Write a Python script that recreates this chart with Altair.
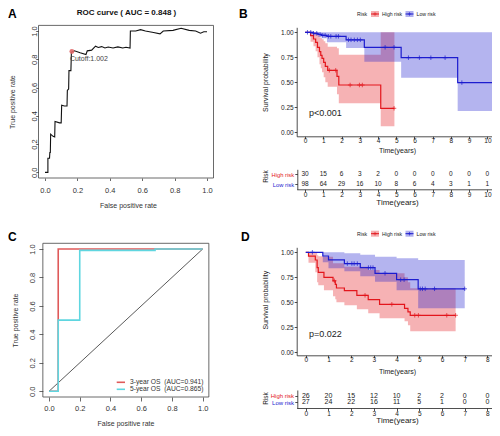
import altair as alt
import pandas as pd

W, H = 484, 420
FONT = "Liberation Sans"
RED, BLUE = "#e3161c", "#1c1ccf"
C3, C5 = "#df5a5a", "#5fd6e0"
DOT = "#e06868"
INK = "#222222"
PLUS = "M-1,0L1,0M0,-1L0,1"


def X(v):
    return v - 8


def Y(v):
    return v - 8


# ---------------- data ----------------
# Panel A: ROC curve
rocA_fpr = [0.0, 0.018, 0.018, 0.028, 0.030, 0.033, 0.035, 0.050, 0.060, 0.062,
            0.090, 0.100, 0.103, 0.120, 0.136, 0.138, 0.146, 0.148, 0.160, 0.163,
            0.168, 0.182, 0.217, 0.253, 0.261, 0.288, 0.312, 0.329, 0.35, 0.37,
            0.39, 0.42, 0.45, 0.48, 0.50, 0.525, 0.527, 0.56, 0.59, 0.62,
            0.67, 0.71, 0.73, 0.79, 0.84, 0.89, 0.93, 0.96, 0.98, 1.0]
rocA_tpr = [0.0, 0.0, 0.10, 0.10, 0.14, 0.14, 0.27, 0.255, 0.25, 0.36,
            0.35, 0.35, 0.475, 0.47, 0.47, 0.58, 0.59, 0.72, 0.72, 0.85,
            0.853, 0.86, 0.846, 0.834, 0.86, 0.865, 0.893, 0.884, 0.89, 0.88,
            0.887, 0.88, 0.888, 0.88, 0.885, 0.879, 1.0, 1.0, 1.01, 1.0,
            0.99, 0.98, 1.0, 1.005, 1.02, 1.005, 1.0, 0.985, 0.995, 0.995]
cutoff_fpr = [0.166]
cutoff_tpr = [0.855]
cutoff_label = ["Cutoff:1.002"]

# Panel B: KM curves (training set)
B_high_t = [0, 0.30, 0.46, 0.58, 0.68, 0.79, 0.86, 0.93, 1.02, 1.11, 1.24, 1.75, 1.85, 4.15, 4.9]
B_high_s = [1.0, 0.967, 0.933, 0.9, 0.85, 0.806, 0.77, 0.74, 0.70, 0.66, 0.62, 0.56, 0.473, 0.24, 0.24]
B_high_up = [1.0, 1.0, 1.0, 1.0, 0.97, 0.95, 0.94, 0.93, 0.91, 0.89, 0.856, 0.84, 0.775, 1.0, 1.0]
B_high_lo = [1.0, 0.905, 0.86, 0.81, 0.75, 0.68, 0.64, 0.60, 0.55, 0.50, 0.456, 0.38, 0.29, 0.06, 0.06]
B_low_t = [0, 0.45, 0.7, 0.9, 1.2, 2.25, 3.25, 5.27, 8.37, 10.5]
B_low_s = [1.0, 0.99, 0.98, 0.97, 0.96, 0.925, 0.85, 0.746, 0.497, 0.497]
B_low_up = [1.0, 1.0, 1.0, 1.0, 1.0, 1.0, 1.0, 1.0, 1.0, 1.0]
B_low_lo = [1.0, 0.97, 0.955, 0.94, 0.90, 0.843, 0.706, 0.546, 0.213, 0.213]
B_high_cens_t = [1.33, 1.68, 2.47, 2.98, 3.14, 4.88]
B_high_cens_s = [0.62, 0.62, 0.473, 0.473, 0.473, 0.24]
B_low_cens_t = [0.13, 0.31, 0.46, 0.64, 0.82, 0.97, 1.1, 1.28, 1.41, 1.7, 1.83, 2.38,
                2.52, 2.7, 2.87, 3.03, 4.39, 4.88, 5.67, 6.27, 6.9, 7.68, 8.6]
B_low_cens_s = [1.0, 1.0, 0.99, 0.99, 0.98, 0.97, 0.97, 0.96, 0.96, 0.96, 0.96, 0.925,
                0.925, 0.925, 0.925, 0.925, 0.85, 0.85, 0.746, 0.746, 0.746, 0.746, 0.497]
B_times = list(range(11))
B_risk_high = [30, 15, 6, 3, 2, 0, 0, 0, 0, 0, 0]
B_risk_low = [98, 64, 29, 16, 10, 8, 6, 4, 3, 1, 1]

# Panel C: time-dependent ROC
C3_fpr = [0.0, 0.06, 0.06, 1.0]
C3_tpr = [0.0, 0.0, 1.0, 1.0]
C5_fpr = [0.0, 0.06, 0.06, 0.2, 0.2, 0.69, 0.69, 1.0]
C5_tpr = [0.0, 0.0, 0.5, 0.5, 0.99, 0.99, 1.0, 1.0]
diag_v = [0.0, 1.0]
C_legend = ["3-year OS\u00a0\u00a0(AUC=0.941)", "5-year OS\u00a0\u00a0(AUC=0.865)"]

# Panel D: KM curves (validation set)
D_high_t = [0, 0.12, 0.42, 0.5, 0.55, 0.8, 1.2, 1.3, 1.35, 1.7, 2.25, 2.75, 3.25, 4.35, 4.5, 4.6, 6.6]
D_high_s = [1.0, 0.962, 0.923, 0.846, 0.80, 0.75, 0.715, 0.68, 0.643, 0.616, 0.57, 0.526, 0.48, 0.44, 0.405, 0.37, 0.37]
D_high_up = [1.0, 1.0, 1.0, 0.97, 0.96, 0.956, 0.89, 0.89, 0.89, 0.856, 0.856, 0.823, 0.79, 0.75, 0.70, 0.64, 0.64]
D_high_lo = [1.0, 0.895, 0.8, 0.7, 0.67, 0.62, 0.56, 0.53, 0.5, 0.47, 0.43, 0.39, 0.34, 0.31, 0.27, 0.21, 0.21]
D_low_t = [0, 0.75, 1.0, 1.7, 2.4, 3.05, 4.0, 4.95, 7.0]
D_low_s = [1.0, 0.963, 0.925, 0.887, 0.847, 0.79, 0.726, 0.635, 0.635]
D_low_up = [1.0, 1.0, 1.0, 0.99, 0.975, 0.955, 0.94, 0.923, 0.923]
D_low_lo = [1.0, 0.9, 0.84, 0.81, 0.76, 0.706, 0.62, 0.44, 0.44]
D_high_cens_t = [1.26, 2.61, 3.79, 4.8, 4.96, 6.21, 6.6]
D_high_cens_s = [0.715, 0.57, 0.48, 0.37, 0.37, 0.37, 0.37]
D_low_cens_t = [0.29, 1.83, 2.03, 2.13, 2.27, 2.76, 2.86, 2.96, 3.49, 4.18, 4.33, 5.04, 5.14, 5.26, 5.67, 7.0]
D_low_cens_s = [1.0, 0.887, 0.887, 0.887, 0.887, 0.847, 0.847, 0.847, 0.79, 0.726, 0.726,
                0.635, 0.635, 0.635, 0.635, 0.635]
D_times = list(range(9))
D_risk_high = [26, 20, 15, 12, 10, 2, 2, 0, 0]
D_risk_low = [27, 24, 22, 16, 11, 5, 1, 0, 0]

GROUPS = ["High risk", "Low risk"]


# ---------------- helpers ----------------
def text_layer(s, x, y, size, color=INK, weight="normal", align="left", baseline="middle"):
    return alt.Chart(pd.DataFrame({"s": [s]})).mark_text(
        align=align, baseline=baseline, font=FONT, fontSize=size,
        fontWeight=weight, color=color
    ).encode(x=alt.value(X(x)), y=alt.value(Y(y)), text="s:N")


def lin(dom, r0, r1):
    return alt.Scale(domain=dom, range=[r0, r1], nice=False, zero=False)


def r_x_axis(box_b, tick, lab_c, title_x, title_y):
    return alt.Axis(orient="bottom", offset=Y(box_b) - H, values=[0, 0.2, 0.4, 0.6, 0.8, 1.0],
                    format=".1f", domain=False, grid=False, tickSize=tick, tickColor="#444",
                    tickWidth=0.8, labelFont=FONT, labelFontSize=7.5, labelColor="#333",
                    labelBaseline="middle", labelAlign="center", labelPadding=lab_c - box_b - tick,
                    labelFlush=False, labelOverlap=False,
                    title="False positive rate", titleFont=FONT, titleFontSize=7,
                    titleFontWeight="normal", titleColor="#333", titleX=X(title_x),
                    titleY=title_y - box_b, titleBaseline="middle", titleAlign="center")


def r_y_axis(box_l, tick, lab_c, title_x, title_y):
    return alt.Axis(orient="left", offset=-X(box_l), values=[0, 0.2, 0.4, 0.6, 0.8, 1.0],
                    format=".1f", domain=False, grid=False, tickSize=tick, tickColor="#444",
                    tickWidth=0.8, labelFont=FONT, labelFontSize=7.5, labelColor="#333",
                    labelAngle=270, labelAlign="center", labelBaseline="middle",
                    labelPadding=box_l - tick - lab_c, labelFlush=False, labelOverlap=False,
                    title="True positive rate", titleFont=FONT, titleFontSize=7,
                    titleFontWeight="normal", titleColor="#333", titleAngle=270,
                    titleX=title_x - box_l, titleY=Y(title_y), titleBaseline="middle",
                    titleAlign="center")


def gg_x_axis(ax_y, values, lab_c, title_y, title_size=7, title_x=397):
    return alt.Axis(orient="bottom", offset=Y(ax_y) - H, values=values, format="d",
                    domain=True, domainColor=INK, domainWidth=0.8, grid=False, tickSize=2.5,
                    tickColor=INK, tickWidth=0.8, labelFont=FONT, labelFontSize=6.5,
                    labelColor=INK, labelBaseline="middle", labelAlign="center",
                    labelPadding=lab_c - ax_y - 2.5, labelFlush=False, labelOverlap=False,
                    title="Time(years)", titleFont=FONT, titleFontSize=title_size,
                    titleFontWeight="normal", titleColor=INK, titleX=X(title_x),
                    titleY=title_y - ax_y, titleBaseline="middle", titleAlign="center")


def gg_y_axis(ax_x, title_y):
    return alt.Axis(orient="left", offset=-X(ax_x), values=[0, 0.25, 0.5, 0.75, 1.0],
                    format=".2f", domain=True, domainColor=INK, domainWidth=0.8, grid=False,
                    tickSize=2.5, tickColor=INK, tickWidth=0.8, labelFont=FONT,
                    labelFontSize=6.5, labelColor=INK, labelAlign="right",
                    labelBaseline="middle", labelPadding=1, labelFlush=False,
                    labelOverlap=False, title="Survival probability", titleFont=FONT,
                    titleFontSize=7, titleFontWeight="normal", titleColor=INK, titleAngle=270,
                    titleX=265 - ax_x, titleY=Y(title_y), titleBaseline="middle",
                    titleAlign="center")


def risk_y_axis(ax_x, title_y, size):
    return alt.Axis(orient="left", offset=-X(ax_x), domain=True, domainColor=INK,
                    domainWidth=0.8, grid=False, tickSize=2.5, tickColor=INK, tickWidth=0.8,
                    labelFont=FONT, labelFontSize=size, labelAlign="right",
                    labelBaseline="middle", labelPadding=1.2,
                    labelColor={"condition": {"test": "datum.value == 'High risk'", "value": RED},
                                "value": BLUE},
                    title="Risk", titleFont=FONT, titleFontSize=6.5, titleFontWeight="normal",
                    titleColor=INK, titleAngle=270, titleX=265 - ax_x, titleY=Y(title_y),
                    titleBaseline="middle", titleAlign="center")


def km_legend(y):
    parts = [text_layer("Risk", 357, y, 5.2)]
    for x0, col, lab in [(371, RED, "High risk"), (405.5, BLUE, "Low risk")]:
        one = pd.DataFrame({"a": [0]})
        parts.append(alt.Chart(one).mark_rect(color=col, opacity=0.35).encode(
            x=alt.value(X(x0)), x2=alt.value(X(x0 + 8)), y=alt.value(Y(y - 3)), y2=alt.value(Y(y + 3))))
        parts.append(alt.Chart(one).mark_rule(color=col, strokeWidth=1).encode(
            x=alt.value(X(x0)), x2=alt.value(X(x0 + 8)), y=alt.value(Y(y))))
        parts.append(alt.Chart(one).mark_point(shape=PLUS, size=12, filled=False, color=col,
                                               strokeWidth=0.9).encode(
            x=alt.value(X(x0 + 4)), y=alt.value(Y(y))))
        parts.append(text_layer(lab, x0 + 11, y, 5.2))
    return parts


def km_panel(xdom, x_l, x_r, y_b, y_t, ydom, xvals, lab_c, title_y, ytitle_c,
             high, low, high_c, low_c):
    sx = lin(xdom, X(x_l), X(x_r))
    sy = lin(ydom, Y(y_b), Y(y_t))
    hdf = pd.DataFrame({"t": high[0], "s": high[1], "up": high[2], "lo": high[3]})
    ldf = pd.DataFrame({"t": low[0], "s": low[1], "up": low[2], "lo": low[3]})
    hc = pd.DataFrame({"t": high_c[0], "s": high_c[1]})
    lc = pd.DataFrame({"t": low_c[0], "s": low_c[1]})
    base_h = alt.Chart(hdf)
    base_l = alt.Chart(ldf)
    return [
        base_h.mark_area(interpolate="step-after", color=RED, opacity=0.33).encode(
            x=alt.X("t:Q", scale=sx, axis=gg_x_axis(y_b, xvals, lab_c, title_y)),
            y=alt.Y("up:Q", scale=sy, axis=gg_y_axis(x_l, ytitle_c)), y2="lo:Q"),
        base_l.mark_area(interpolate="step-after", color=BLUE, opacity=0.33).encode(
            x=alt.X("t:Q", scale=sx, axis=None), y=alt.Y("up:Q", scale=sy, axis=None), y2="lo:Q"),
        base_h.mark_line(interpolate="step-after", color=RED, strokeWidth=1.2).encode(
            x=alt.X("t:Q", scale=sx, axis=None), y=alt.Y("s:Q", scale=sy, axis=None)),
        base_l.mark_line(interpolate="step-after", color=BLUE, strokeWidth=1.2).encode(
            x=alt.X("t:Q", scale=sx, axis=None), y=alt.Y("s:Q", scale=sy, axis=None)),
        alt.Chart(hc).mark_point(shape=PLUS, size=20, filled=False, color=RED, strokeWidth=1).encode(
            x=alt.X("t:Q", scale=sx, axis=None), y=alt.Y("s:Q", scale=sy, axis=None)),
        alt.Chart(lc).mark_point(shape=PLUS, size=20, filled=False, color=BLUE, strokeWidth=1).encode(
            x=alt.X("t:Q", scale=sx, axis=None), y=alt.Y("s:Q", scale=sy, axis=None)),
    ]


def risk_table(xdom, x_l, x_r, times, high, low, ax_x, r_top, r_bot, pad, lab_c, title_y,
               ytitle_c, num_size, lab_size):
    sx = lin(xdom, X(x_l), X(x_r))
    sy = alt.Scale(type="point", domain=GROUPS, range=[Y(r_top), Y(r_bot)], padding=pad)
    df = pd.DataFrame({"t": times + times, "g": [GROUPS[0]] * len(times) + [GROUPS[1]] * len(times),
                       "n": high + low})
    return alt.Chart(df).mark_text(font=FONT, fontSize=num_size, color=INK, baseline="middle").encode(
        x=alt.X("t:Q", scale=sx, axis=gg_x_axis(r_bot, times, lab_c, title_y, title_size=8)),
        y=alt.Y("g:N", scale=sy, axis=risk_y_axis(ax_x, ytitle_c, lab_size)),
        text="n:Q")


# ---------------- panel A ----------------
xA = lin([-0.04, 1.04], X(38.5), X(213.5))
yA = lin([-0.04, 1.04], Y(178), Y(25.4))
dfA = pd.DataFrame({"fpr": rocA_fpr, "tpr": rocA_tpr, "i": range(len(rocA_fpr))})
dfCut = pd.DataFrame({"fpr": cutoff_fpr, "tpr": cutoff_tpr, "lab": cutoff_label})
panelA = [
    alt.Chart(dfA).mark_line(color="#111", strokeWidth=1.1).encode(
        x=alt.X("fpr:Q", scale=xA, axis=r_x_axis(178, 2.5, 190, 128, 205.7)),
        y=alt.Y("tpr:Q", scale=yA, axis=r_y_axis(38.5, 2.5, 34.5, 12.8, 101.7)),
        order="i:Q"),
    alt.Chart(dfCut).mark_point(filled=True, color=DOT, size=24, opacity=0.9).encode(
        x=alt.X("fpr:Q", scale=xA, axis=None), y=alt.Y("tpr:Q", scale=yA, axis=None)),
    alt.Chart(dfCut).mark_text(align="left", baseline="middle", font=FONT, fontSize=7,
                               color="#444", dx=-2, dy=7.5).encode(
        x=alt.X("fpr:Q", scale=xA, axis=None), y=alt.Y("tpr:Q", scale=yA, axis=None), text="lab:N"),
    alt.Chart(pd.DataFrame({"a": [0]})).mark_rect(fill="transparent", stroke="#444", strokeWidth=0.8).encode(
        x=alt.XDatum(-0.04, type="quantitative", scale=xA, axis=None),
        x2=alt.X2Datum(1.04),
        y=alt.YDatum(-0.04, type="quantitative", scale=yA, axis=None),
        y2=alt.Y2Datum(1.04)),
]

# ---------------- panel C ----------------
xC = lin([-0.04, 1.04], X(42.85), X(208.85))
yC = lin([-0.04, 1.04], Y(397), Y(243.3))
df3 = pd.DataFrame({"fpr": C3_fpr, "tpr": C3_tpr, "i": range(len(C3_fpr))})
df5 = pd.DataFrame({"fpr": C5_fpr, "tpr": C5_tpr, "i": range(len(C5_fpr))})
dfd = pd.DataFrame({"fpr": diag_v, "tpr": diag_v, "i": [0, 1]})
panelC = [
    alt.Chart(dfd).mark_line(color="#111", strokeWidth=0.7).encode(
        x=alt.X("fpr:Q", scale=xC, axis=r_x_axis(397, 4, 408.7, 125.5, 423.7)),
        y=alt.Y("tpr:Q", scale=yC, axis=r_y_axis(42.85, 4, 32.2, 15.8, 320)),
        order="i:Q"),
    alt.Chart(df3).mark_line(color=C3, strokeWidth=1.6).encode(
        x=alt.X("fpr:Q", scale=xC, axis=None), y=alt.Y("tpr:Q", scale=yC, axis=None), order="i:Q"),
    alt.Chart(df5).mark_line(color=C5, strokeWidth=1.6).encode(
        x=alt.X("fpr:Q", scale=xC, axis=None), y=alt.Y("tpr:Q", scale=yC, axis=None), order="i:Q"),
    alt.Chart(pd.DataFrame({"a": [0]})).mark_rect(fill="transparent", stroke="#444", strokeWidth=0.8).encode(
        x=alt.XDatum(-0.04, type="quantitative", scale=xC, axis=None),
        x2=alt.X2Datum(1.04),
        y=alt.YDatum(-0.04, type="quantitative", scale=yC, axis=None),
        y2=alt.Y2Datum(1.04)),
]
legC = []
for yy, col, lab in [(382.3, C3, C_legend[0]), (389.3, C5, C_legend[1])]:
    legC.append(alt.Chart(pd.DataFrame({"a": [0]})).mark_rule(color=col, strokeWidth=1.6).encode(
        x=alt.value(X(116.7)), x2=alt.value(X(125)), y=alt.value(Y(yy))))
    legC.append(text_layer(lab, 130, yy, 6.7, color="#333"))

# ---------------- panels B and D ----------------
panelB = km_panel([-0.46, 10.5], 296.7, 496.5, 136.3, 27.3, [-0.04, 1.05], B_times, 140.5, 150, 82,
                  (B_high_t, B_high_s, B_high_up, B_high_lo), (B_low_t, B_low_s, B_low_up, B_low_lo),
                  (B_high_cens_t, B_high_cens_s), (B_low_cens_t, B_low_cens_s))
tableB = risk_table([-0.46, 10.5], 296.7, 496.5, B_times, B_risk_high, B_risk_low,
                    297.3, 169.3, 189.3, 0.5, 194, 202.3, 176, 6.5, 5.8)

panelD = km_panel([-0.4, 8.4], 296.7, 496.5, 355.3, 247.3, [-0.03, 1.05], D_times, 359.7, 371, 299.7,
                  (D_high_t, D_high_s, D_high_up, D_high_lo), (D_low_t, D_low_s, D_low_up, D_low_lo),
                  (D_high_cens_t, D_high_cens_s), (D_low_cens_t, D_low_cens_s))
tableD = risk_table([-0.4, 8.4], 296.7, 496.5, D_times, D_risk_high, D_risk_low,
                    297.3, 390, 408, 0.86, 413.7, 420.7, 398, 7, 6)

# ---------------- annotations ----------------
notes = [
    text_layer("A", 8, 9, 12, color="#000", weight="bold", baseline="top"),
    text_layer("B", 239, 9, 12, color="#000", weight="bold", baseline="top"),
    text_layer("C", 8, 237, 12, color="#000", weight="bold"),
    text_layer("D", 241, 237, 12, color="#000", weight="bold"),
    text_layer("ROC curve ( AUC =  0.848 )", 126.5, 9, 8, color="#111", weight="bold",
               align="center", baseline="top"),
    text_layer("p<0.001", 309, 112.5, 9),
    text_layer("p=0.022", 309, 334, 9),
]

chart = alt.layer(
    *panelA, *panelC, *panelB, tableB, *panelD, tableD, *legC,
    *km_legend(14), *km_legend(233.7), *notes
).resolve_scale(x="independent", y="independent").properties(
    width=W, height=H, autosize=alt.AutoSizeParams(type="none"), padding=0
).configure_view(stroke=None)

chart.save("out.html", embed_options={"renderer": "svg", "actions": False})
